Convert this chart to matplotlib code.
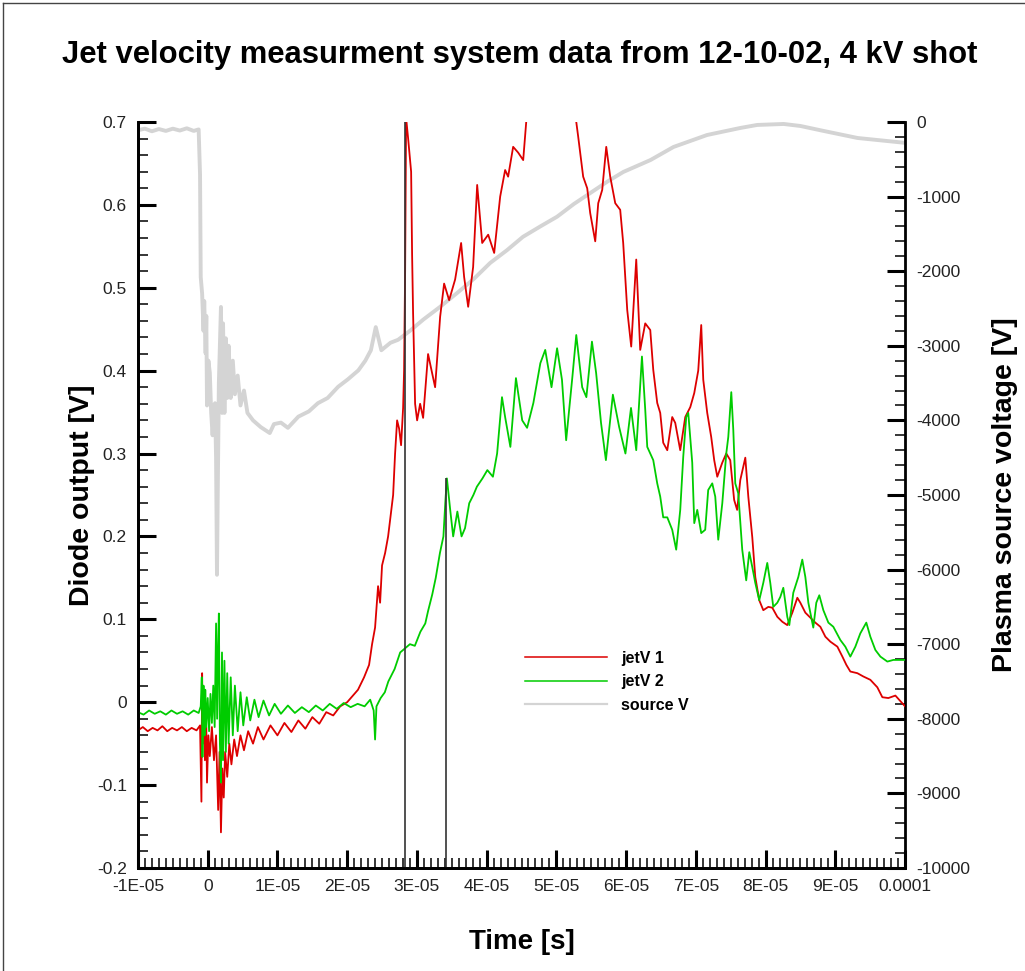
import numpy as np
import matplotlib
matplotlib.use("Agg")
import matplotlib.pyplot as plt
from matplotlib.lines import Line2D
from matplotlib.ticker import MultipleLocator, FixedLocator

plt.rcParams['font.family'] = ['Liberation Sans', 'DejaVu Sans']
plt.rcParams['axes.unicode_minus'] = False

# ---- data: (time in microseconds, value) ----
jet1_pts = [
    (-10.0, -0.034), (-9.3, -0.030), (-8.6, -0.035), (-7.9, -0.031), (-7.2, -0.034),
    (-6.5, -0.029), (-5.8, -0.035), (-5.1, -0.031), (-4.4, -0.034), (-3.7, -0.030),
    (-3.0, -0.035), (-2.3, -0.031), (-1.6, -0.034), (-1.1, -0.028), (-0.9, -0.12),
    (-0.8, 0.035), (-0.7, -0.05), (-0.5, -0.02), (-0.4, -0.07), (-0.2, -0.03),
    (-0.1, -0.097), (0.1, -0.04), (0.3, -0.065), (0.6, -0.03), (0.9, -0.07),
    (1.2, -0.04), (1.5, -0.13), (1.7, -0.06), (1.9, -0.157), (2.1, -0.08),
    (2.3, -0.115), (2.5, -0.06), (2.8, -0.09), (3.1, -0.05), (3.4, -0.075),
    (3.8, -0.045), (4.2, -0.065), (4.7, -0.04), (5.2, -0.058), (5.8, -0.035),
    (6.5, -0.05), (7.2, -0.03), (8.0, -0.045), (9.0, -0.028), (10.0, -0.04),
    (11.0, -0.025), (12.0, -0.036), (13.0, -0.022), (14.0, -0.032), (15.0, -0.018),
    (16.0, -0.026), (17.0, -0.012), (18.0, -0.016), (19.0, -0.005), (20.0, 0.0),
    (21.55, 0.015), (22.42, 0.03), (23.14, 0.045), (23.57, 0.07), (24.0, 0.09),
    (24.43, 0.14), (24.72, 0.12), (25.0, 0.165), (25.44, 0.18), (25.87, 0.2),
    (26.3, 0.23), (26.59, 0.25), (26.87, 0.30), (27.16, 0.34), (27.45, 0.33),
    (27.73, 0.31), (28.02, 0.355), (28.16, 0.40), (28.31, 0.52), (28.45, 0.705),
    (28.74, 0.68), (29.17, 0.64), (29.31, 0.54), (29.45, 0.47), (29.74, 0.36),
    (30.03, 0.34), (30.46, 0.36), (30.89, 0.343), (31.6, 0.42), (32.61, 0.38),
    (33.33, 0.465), (33.9, 0.505), (34.62, 0.485), (35.48, 0.51), (36.34, 0.554),
    (36.77, 0.513), (37.35, 0.477), (38.06, 0.525), (38.64, 0.624), (39.36, 0.554),
    (40.22, 0.564), (41.08, 0.542), (41.94, 0.61), (42.65, 0.642), (43.08, 0.634),
    (43.8, 0.67), (44.52, 0.663), (45.24, 0.654), (45.67, 0.70), (46.24, 0.76),
    (49.1, 0.85), (51.3, 0.80), (52.85, 0.70), (53.13, 0.682), (53.84, 0.634),
    (54.42, 0.62), (54.85, 0.59), (55.57, 0.556), (56.0, 0.602), (56.57, 0.618),
    (57.15, 0.67), (57.72, 0.634), (58.44, 0.602), (59.15, 0.594), (59.58, 0.554),
    (60.16, 0.473), (60.73, 0.429), (61.45, 0.534), (62.02, 0.425), (62.74, 0.457),
    (63.46, 0.449), (63.89, 0.401), (64.46, 0.361), (64.89, 0.349), (65.32, 0.313),
    (65.9, 0.304), (66.61, 0.344), (67.04, 0.337), (67.76, 0.304), (68.48, 0.344),
    (69.2, 0.356), (69.77, 0.373), (70.34, 0.40), (70.77, 0.455), (71.06, 0.389),
    (71.63, 0.349), (72.2, 0.32), (72.63, 0.292), (73.07, 0.272), (73.79, 0.289),
    (74.36, 0.30), (74.93, 0.292), (75.49, 0.244), (75.92, 0.232), (76.37, 0.268),
    (77.09, 0.295), (77.52, 0.248), (78.09, 0.199), (78.52, 0.151), (79.09, 0.123),
    (79.67, 0.111), (80.39, 0.115), (80.96, 0.114), (81.68, 0.103), (82.4, 0.097),
    (83.11, 0.093), (83.83, 0.108), (84.55, 0.126), (84.98, 0.12), (85.7, 0.108),
    (86.41, 0.102), (87.13, 0.096), (87.85, 0.091), (88.57, 0.079), (89.29, 0.073),
    (90.29, 0.067), (91.01, 0.055), (91.58, 0.045), (92.15, 0.037), (93.16, 0.035),
    (94.02, 0.031), (95.02, 0.027), (96.02, 0.018), (96.74, 0.006), (97.6, 0.005),
    (98.61, 0.008), (100.0, -0.005),
]

jet2_pts = [
    (-10.0, -0.012), (-9.2, -0.015), (-8.4, -0.010), (-7.6, -0.014), (-6.8, -0.011),
    (-6.0, -0.015), (-5.2, -0.010), (-4.4, -0.014), (-3.6, -0.011), (-2.8, -0.015),
    (-2.0, -0.010), (-1.3, -0.013), (-1.0, -0.005), (-0.85, 0.03), (-0.75, -0.066),
    (-0.6, 0.02), (-0.45, -0.04), (-0.35, 0.015), (-0.2, -0.03), (0.0, 0.005),
    (0.2, -0.035), (0.4, 0.01), (0.6, -0.025), (0.8, 0.02), (1.0, -0.03),
    (1.2, 0.095), (1.35, -0.02), (1.5, 0.07), (1.6, 0.107), (1.75, -0.05),
    (1.9, -0.097), (2.05, 0.06), (2.2, -0.07), (2.4, 0.05), (2.6, -0.06),
    (2.8, 0.035), (3.0, -0.05), (3.3, 0.03), (3.6, -0.04), (3.9, 0.02),
    (4.3, -0.035), (4.7, 0.012), (5.1, -0.028), (5.6, 0.006), (6.1, -0.022),
    (6.7, 0.003), (7.3, -0.018), (8.0, 0.002), (8.8, -0.016), (9.6, -0.002),
    (10.5, -0.014), (11.5, -0.004), (12.5, -0.013), (13.5, -0.006), (14.5, -0.012),
    (15.5, -0.004), (16.5, -0.01), (17.5, -0.002), (18.5, -0.008), (19.5, -0.001),
    (20.5, -0.006), (21.5, -0.002), (22.5, -0.005), (23.3, 0.003), (23.8, -0.01),
    (24.0, -0.045), (24.2, -0.005), (24.8, 0.005), (25.4, 0.012), (25.9, 0.025),
    (26.8, 0.04), (27.6, 0.06), (28.3, 0.065), (29.0, 0.07), (29.7, 0.068),
    (30.5, 0.085), (31.2, 0.095), (31.6, 0.11), (32.2, 0.13), (32.7, 0.15),
    (33.3, 0.18), (33.8, 0.2), (34.1, 0.245), (34.3, 0.27), (34.8, 0.23),
    (35.2, 0.2), (35.8, 0.23), (36.4, 0.2), (36.9, 0.21), (37.5, 0.24),
    (38.1, 0.25), (38.6, 0.26), (39.4, 0.27), (40.1, 0.28), (40.9, 0.272),
    (41.5, 0.30), (42.2, 0.368), (42.65, 0.344), (43.4, 0.308), (44.2, 0.391),
    (45.1, 0.34), (45.8, 0.331), (46.7, 0.361), (47.7, 0.409), (48.4, 0.425),
    (49.3, 0.38), (50.1, 0.427), (50.8, 0.389), (51.4, 0.316), (52.3, 0.393),
    (52.85, 0.443), (53.7, 0.38), (54.3, 0.368), (55.1, 0.435), (55.7, 0.397),
    (56.4, 0.337), (57.1, 0.292), (58.1, 0.371), (59.0, 0.332), (59.9, 0.30),
    (60.7, 0.355), (61.45, 0.304), (62.27, 0.417), (62.74, 0.353), (63.03, 0.308),
    (63.46, 0.30), (63.89, 0.292), (64.46, 0.264), (64.89, 0.248), (65.32, 0.223),
    (65.9, 0.223), (66.61, 0.208), (67.18, 0.184), (67.76, 0.232), (68.19, 0.296),
    (68.62, 0.344), (68.91, 0.349), (69.48, 0.289), (69.77, 0.216), (70.2, 0.232),
    (70.77, 0.204), (71.34, 0.208), (71.77, 0.256), (72.35, 0.264), (72.78, 0.248),
    (73.21, 0.196), (73.79, 0.24), (74.36, 0.30), (74.65, 0.32), (75.08, 0.374),
    (75.37, 0.328), (75.65, 0.264), (76.08, 0.252), (76.65, 0.184), (77.22, 0.147),
    (77.66, 0.181), (78.09, 0.163), (78.52, 0.144), (79.09, 0.123), (79.67, 0.144),
    (80.24, 0.168), (80.67, 0.144), (81.1, 0.115), (81.68, 0.12), (82.11, 0.127),
    (82.54, 0.138), (83.11, 0.103), (83.4, 0.093), (83.97, 0.132), (84.69, 0.151),
    (85.26, 0.172), (85.7, 0.151), (86.13, 0.12), (86.84, 0.09), (87.27, 0.12),
    (87.7, 0.129), (88.28, 0.111), (89.0, 0.096), (89.71, 0.091), (90.72, 0.075),
    (91.43, 0.067), (92.15, 0.055), (92.87, 0.067), (93.58, 0.083), (94.44, 0.096),
    (95.02, 0.079), (95.74, 0.063), (96.46, 0.055), (97.46, 0.049), (98.32, 0.051),
    (100.0, 0.051),
]

src_pts = [
    (-10.0, -110), (-9.0, -90), (-8.0, -125), (-7.0, -95), (-6.0, -120),
    (-5.0, -90), (-4.0, -115), (-3.0, -85), (-2.0, -120), (-1.3, -100),
    (-1.1, -700), (-1.0, -2080), (-0.8, -2300), (-0.6, -2800), (-0.5, -2400),
    (-0.3, -3100), (-0.2, -2600), (-0.1, -3800), (0.1, -3200), (0.3, -3360),
    (0.5, -3900), (0.7, -4200), (0.9, -3800), (1.05, -3770), (1.2, -4500),
    (1.33, -6070), (1.45, -4890), (1.6, -3500), (1.9, -2480), (2.05, -3900),
    (2.2, -2700), (2.4, -3900), (2.6, -2900), (2.8, -3700), (3.0, -3000),
    (3.3, -3700), (3.6, -3200), (3.9, -3650), (4.3, -3400), (4.7, -3800),
    (5.2, -3600), (5.7, -3900), (6.5, -4000), (7.6, -4090), (8.9, -4170),
    (9.5, -4050), (10.5, -4030), (11.5, -4100), (13.0, -3950), (14.5, -3880),
    (15.8, -3770), (17.2, -3700), (18.7, -3550), (20.1, -3450), (21.6, -3330),
    (22.6, -3200), (23.4, -3060), (24.1, -2750), (24.9, -3060), (26.2, -2960),
    (27.3, -2920), (29.0, -2800), (30.9, -2650), (33.3, -2480), (35.8, -2290),
    (38.2, -2100), (40.5, -1890), (42.9, -1720), (45.2, -1540), (47.7, -1400),
    (50.1, -1270), (52.5, -1100), (54.9, -950), (57.3, -800), (59.6, -670),
    (63.5, -510), (66.8, -335), (71.6, -175), (76.4, -80), (78.8, -40),
    (82.6, -27), (85.0, -54), (88.3, -120), (93.2, -215), (100.0, -280),
]

# trigger marks: time (us) and top level (V)
trig_t = [28.31, 34.19]
trig_top = [0.70, 0.27]

x_ticks_us = [-10, 0, 10, 20, 30, 40, 50, 60, 70, 80, 90, 100]
x_tick_labels = ['-1E-05', '0', '1E-05', '2E-05', '3E-05', '4E-05', '5E-05', '6E-05',
                 '7E-05', '8E-05', '9E-05', '0.0001']
y_ticks = [-0.2, -0.1, 0.0, 0.1, 0.2, 0.3, 0.4, 0.5, 0.6, 0.7]
y_tick_labels = ['-0.2', '-0.1', '0', '0.1', '0.2', '0.3', '0.4', '0.5', '0.6', '0.7']
series_labels = ['jetV 1', 'jetV 2', 'source V']

RED = '#dd0000'
GREEN = '#00cc00'
GRAY = '#d4d4d4'
TXT = '#222222'
us = 1e-6

jet1_t, jet1_v = map(np.array, zip(*jet1_pts))
jet2_t, jet2_v = map(np.array, zip(*jet2_pts))
src_t, src_v = map(np.array, zip(*src_pts))

fig = plt.figure(figsize=(10.25, 9.71), dpi=100)
ax = fig.add_axes([0.1346, 0.1061, 0.7484, 0.7683])
ax2 = ax.twinx()
ax.set_zorder(ax2.get_zorder() + 1)
ax.patch.set_visible(False)

ax2.plot(src_t * us, src_v, color=GRAY, lw=2.8)
ax.plot(jet1_t * us, jet1_v, color=RED, lw=1.3)
ax.plot(jet2_t * us, jet2_v, color=GREEN, lw=1.3)
ax.vlines(np.array(trig_t) * us, -0.2, trig_top, color='#333333', lw=1.2)

ax.set_xlim(-10 * us, 100 * us)
ax.set_ylim(-0.2, 0.7)
ax2.set_ylim(-10000, 0)

for a in (ax, ax2):
    a.spines['top'].set_visible(False)
    for s in a.spines.values():
        s.set_linewidth(2.0)
ax.spines['right'].set_visible(False)

ax.xaxis.set_major_locator(FixedLocator(np.array(x_ticks_us) * us))
ax.set_xticklabels(x_tick_labels)
ax.xaxis.set_minor_locator(MultipleLocator(1 * us))
ax.set_yticks(y_ticks)
ax.set_yticklabels(y_tick_labels)
ax.yaxis.set_minor_locator(MultipleLocator(0.02))
ax2.yaxis.set_major_locator(MultipleLocator(1000))
ax2.yaxis.set_minor_locator(MultipleLocator(200))

ax.tick_params(axis='both', which='major', direction='in', length=13, width=2.2,
               labelsize=12.5, labelcolor=TXT, pad=8)
ax.tick_params(axis='both', which='minor', direction='in', length=7, width=1.1)
ax.tick_params(axis='y', right=False)
ax2.tick_params(axis='y', which='major', direction='in', length=13, width=2.2,
                labelsize=12.5, labelcolor=TXT, pad=8)
ax2.tick_params(axis='y', which='minor', direction='in', length=7, width=1.1)

ax.set_xlabel('Time [s]', fontsize=20, fontweight='bold', labelpad=25)
ax.set_ylabel('Diode output [V]', fontsize=20.5, fontweight='bold', labelpad=1.5)
ax2.set_ylabel('Plasma source voltage [V]', fontsize=20.5, fontweight='bold', labelpad=16)

fig.suptitle('Jet velocity measurment system data from 12-10-02, 4 kV shot',
             fontsize=22.3, fontweight='bold', x=0.507, y=0.9434, va='center')

handles = [Line2D([], [], color=RED, lw=1.1), Line2D([], [], color=GREEN, lw=1.1),
           Line2D([], [], color=GRAY, lw=1.6)]
ax.legend(handles, series_labels, loc='upper left', bbox_to_anchor=(0.486, 0.310),
          frameon=False, handlelength=5.13, handletextpad=0.875, labelspacing=0.52,
          prop={'weight': 'bold', 'size': 11.5})

# outer frame
fig.add_artist(Line2D([0.003, 0.003], [0.0, 0.997], color='#444444', lw=1.0,
                      transform=fig.transFigure))
fig.add_artist(Line2D([0.003, 1.0], [0.997, 0.997], color='#444444', lw=1.0,
                      transform=fig.transFigure))

fig.savefig('out.png', dpi=100)
